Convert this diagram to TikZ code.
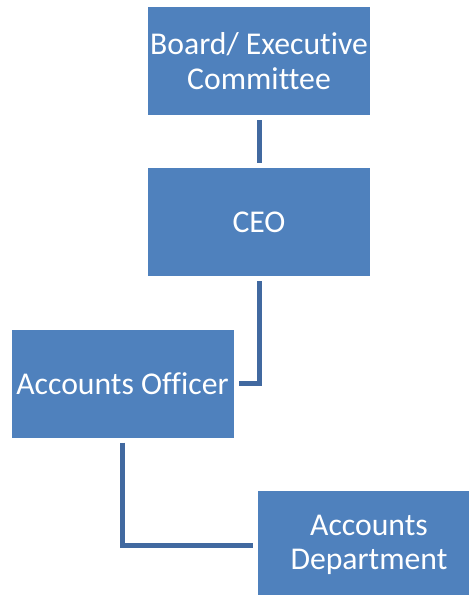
\documentclass[tikz,border=0pt]{standalone}
\usepackage{fontspec}
\setmainfont[Ligatures=NoCommon]{Carlito}
\usepackage{tikz}
\definecolor{boxblue}{RGB}{79,129,189}
\definecolor{lineblue}{RGB}{65,105,160}

\begin{document}
\begin{tikzpicture}[x=1pt, y=-1pt]
\tikzset{ unit/.style={fill=boxblue, text=white, inner sep=0pt, outer sep=0pt,
          minimum width=222pt, minimum height=108pt, align=center,
          font=\fontsize{31.7}{34.7}\selectfont},
          link/.style={lineblue, line width=5pt, shorten <=5pt, shorten >=5pt} }

\useasboundingbox (0,0) rectangle (469,595);
\clip (0,0) rectangle (469,595);

%\draw [lightgray, dashed](0,0) grid[step=50] (469,595);

\node [unit] (Board) at (259,61)    {Board/ Executive\\Committee};
\node [unit] (CEO)   at (259,222)   {CEO};
\node [unit] (Off)   at (122.5,383.5) {Accounts Officer};
\node [unit] (Dep)   at (369,545)   {Accounts\\Department};

% ligacoes
\draw [link] (Board) -- (CEO);
\draw [link] (CEO.south) |- (Off.east);
\draw [link] (Off.south) |- (Dep.west);

\end{tikzpicture}
\end{document}
